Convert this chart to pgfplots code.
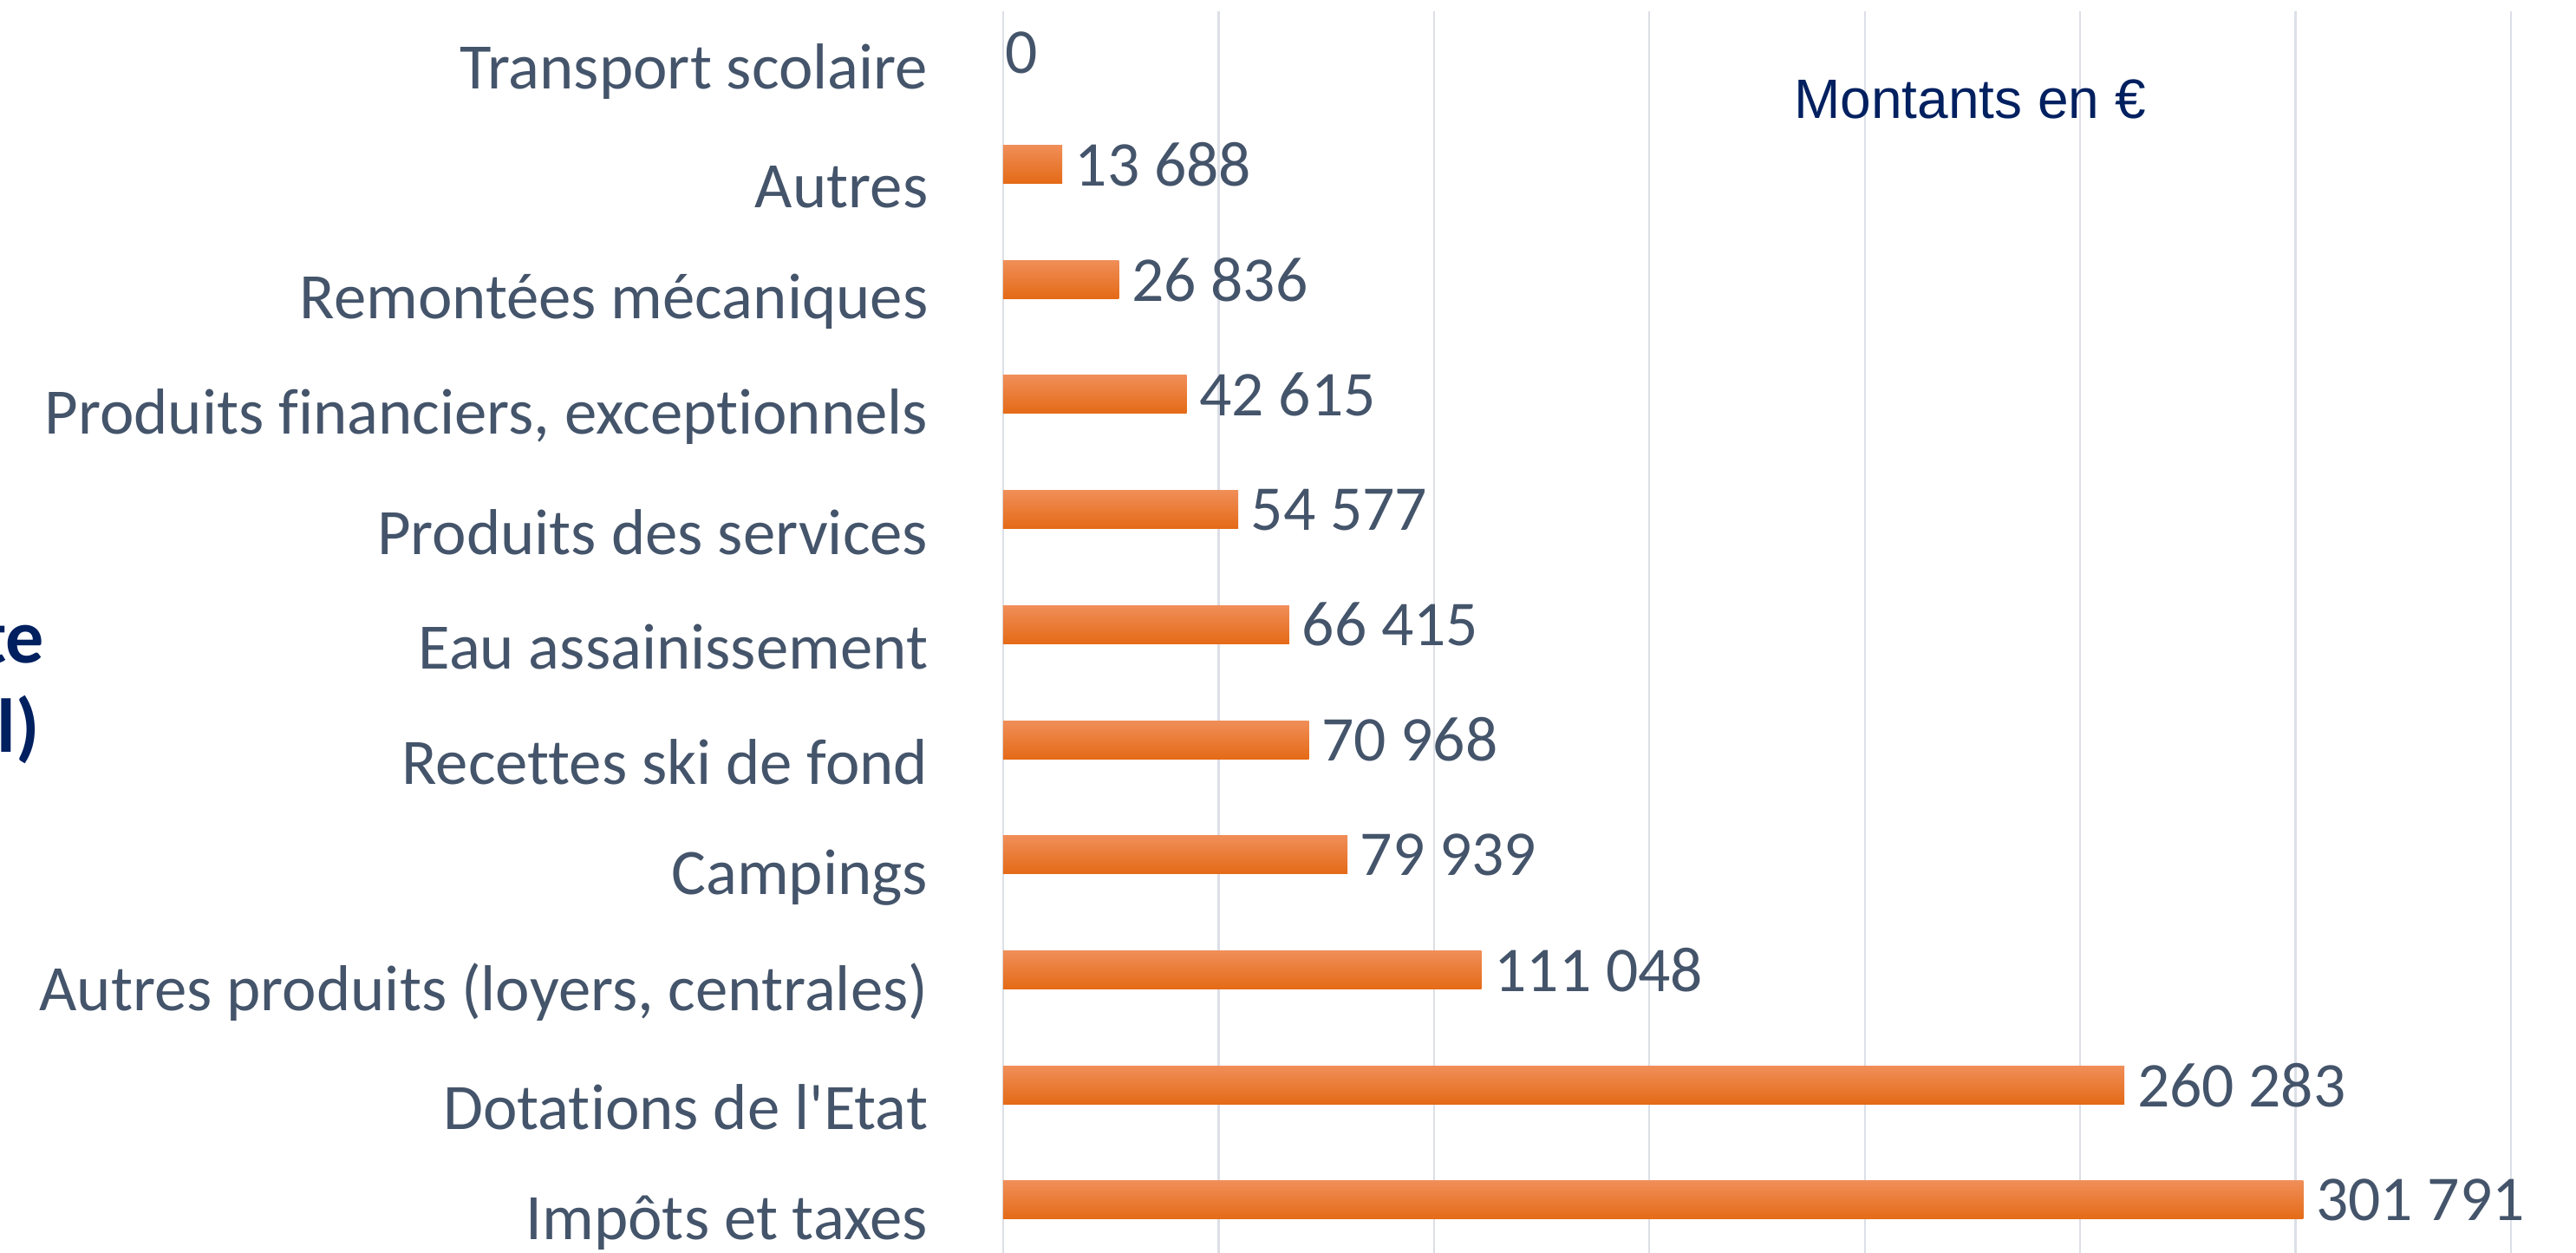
\documentclass[border=0pt]{standalone}
\usepackage{pgfplots}
\pgfplotsset{compat=1.18}
\usepackage{fontspec}
\setmainfont[Ligatures={NoCommon}]{Carlito}
\newfontfamily\arialfont{Liberation Sans}
\definecolor{txt}{RGB}{68,84,106}
\definecolor{navy}{RGB}{0,32,96}
\definecolor{gridc}{RGB}{220,223,230}
\definecolor{otop}{RGB}{240,142,88}
\definecolor{omid}{RGB}{244,124,38}
\definecolor{obot}{RGB}{228,106,22}
\pgfplotsset{obar/.style={xbar, bar shift=0pt, bar width=11pt, draw=none, top color=otop, middle color=omid, bottom color=obot}}
\begin{document}
\begin{tikzpicture}
\path[use as bounding box] (0,0) rectangle (742.75pt,361.25pt);
\begin{axis}[
  at={(289.25pt,0pt)}, anchor=south west,
  scale only axis, width=434.75pt, height=358pt,
  xmin=0, xmax=350000, ymin=-0.46, ymax=10.33,
  xtick={0,50000,...,350000}, xticklabels={},
  xmajorgrids, grid style={color=gridc, line width=0.6pt},
  ytick={0,...,10},
  yticklabels={Impôts et taxes,Dotations de l\textquotesingle Etat,{Autres produits (loyers, centrales)},Campings,Recettes ski de fond,Eau assainissement,Produits des services,{Produits financiers, exceptionnels},Remontées mécaniques,Autres,Transport scolaire},
  yticklabel style={font=\fontsize{18.7}{22}\selectfont, text=txt, inner sep=0pt, xshift=-21.5pt, yshift=-6.5pt},
  major tick length=0pt,
  axis line style={draw=none},
  clip=false,
  point meta=explicit symbolic,
  nodes near coords,
  nodes near coords style={font=\fontsize{18.4}{22}\selectfont, text=txt, anchor=west, inner sep=0pt, xshift=3.5pt, yshift=0pt},
]
\addplot[obar] coordinates {(301791,0) [301 791]};
\addplot[obar] coordinates {(260283,1) [260 283]};
\addplot[obar] coordinates {(111048,2) [111 048]};
\addplot[obar] coordinates {(79939,3) [79 939]};
\addplot[obar] coordinates {(70968,4) [70 968]};
\addplot[obar] coordinates {(66415,5) [66 415]};
\addplot[obar] coordinates {(54577,6) [54 577]};
\addplot[obar] coordinates {(42615,7) [42 615]};
\addplot[obar] coordinates {(26836,8) [26 836]};
\addplot[obar] coordinates {(13688,9) [13 688]};
\addplot[obar, nodes near coords style={xshift=-3pt, yshift=-1pt}] coordinates {(0,10) [0]};
\end{axis}
\node[font=\arialfont\fontsize{16}{19}\selectfont, text=navy] at (568pt,332.75pt) {Montants en €};
\node[font=\bfseries\fontsize{22}{26}\selectfont, text=navy, anchor=base east, inner sep=0pt] at (13pt,170pt) {Recettes par poste};
\node[font=\bfseries\fontsize{22}{26}\selectfont, text=navy, anchor=base east, inner sep=0pt] at (11.5pt,144.25pt) {(total)};
\end{tikzpicture}
\end{document}
